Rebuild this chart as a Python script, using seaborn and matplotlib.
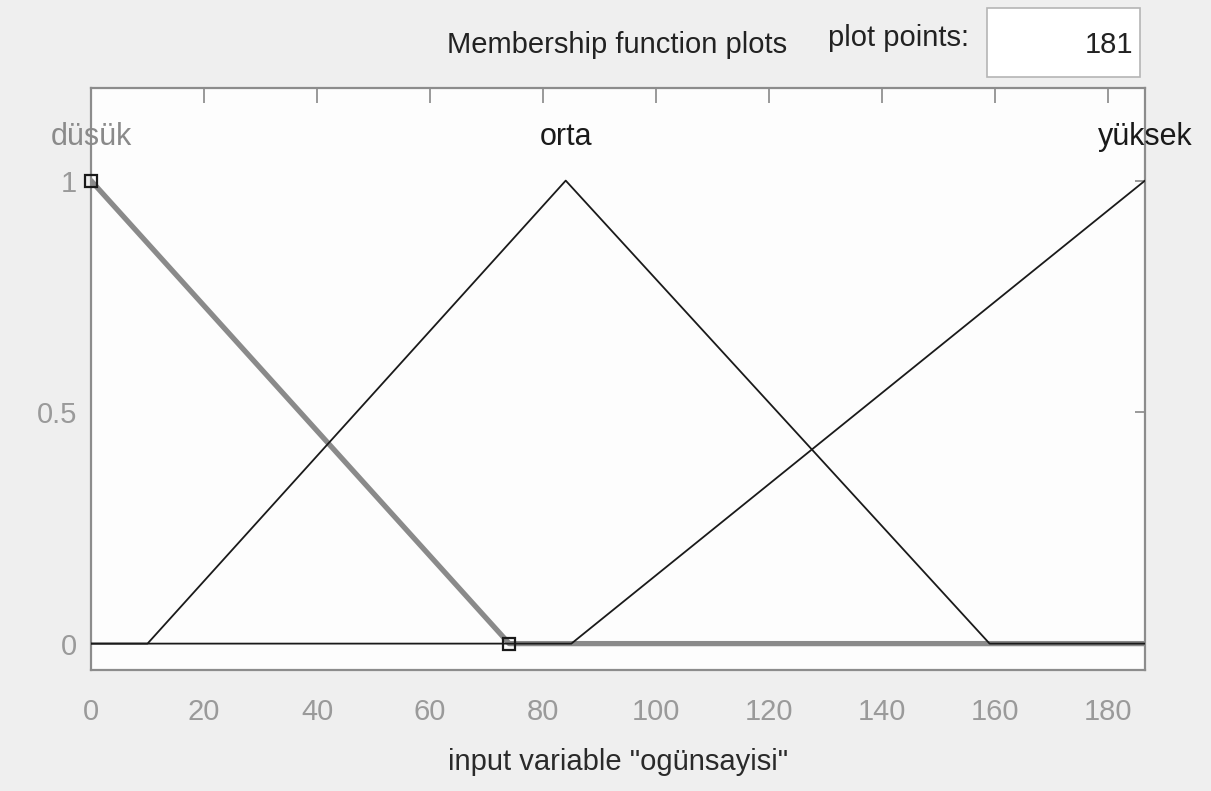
import numpy as np
import pandas as pd
import matplotlib
matplotlib.use("Agg")
import matplotlib.pyplot as plt
import seaborn as sns
from matplotlib import font_manager
from matplotlib.patches import Rectangle

# ---- data (vertices of the membership functions) ----
mf_names = ["düsük", "orta", "yüksek"]
dusuk_x = [0, 74, 186.5]
dusuk_y = [1, 0, 0]
orta_x = [0, 10, 84, 159, 186.5]
orta_y = [0, 0, 1, 0, 0]
yuksek_x = [0, 85, 186.5]
yuksek_y = [0, 0, 1]
label_x = [0, 84, 186.5]
x_ticks = [0, 20, 40, 60, 80, 100, 120, 140, 160, 180]
y_ticks = [0, 0.5, 1]
y_tick_labels = ["0", "0.5", "1"]
plot_points = "181"

sns.set_theme(style="white")
avail = {f.name for f in font_manager.fontManager.ttflist}
fam = "Liberation Sans Narrow" if "Liberation Sans Narrow" in avail else "Liberation Sans"
plt.rcParams["font.family"] = [fam, "DejaVu Sans"]

fig = plt.figure(figsize=(12.11, 7.91), dpi=100)
fig.patch.set_facecolor("#efefef")
ax = fig.add_axes([91 / 1211, 1 - 670 / 791, 1054 / 1211, 582 / 791])
ax.set_facecolor("#fdfdfd")

df_d = pd.DataFrame({"x": dusuk_x, "y": dusuk_y})
df_o = pd.DataFrame({"x": orta_x, "y": orta_y})
df_y = pd.DataFrame({"x": yuksek_x, "y": yuksek_y})

sns.lineplot(data=df_d, x="x", y="y", ax=ax, color="#8a8a8a", linewidth=3.8,
             sort=False, estimator=None, zorder=2)
sns.lineplot(data=df_o, x="x", y="y", ax=ax, color="#1a1a1a", linewidth=1.3,
             sort=False, estimator=None, zorder=3)
sns.lineplot(data=df_y, x="x", y="y", ax=ax, color="#1a1a1a", linewidth=1.3,
             sort=False, estimator=None, zorder=3)
# selected MF vertex markers
ax.plot(dusuk_x[:2], dusuk_y[:2], linestyle="none", marker="s", markersize=9,
        markerfacecolor="none", markeredgecolor="#1a1a1a", markeredgewidth=1.6,
        zorder=5, clip_on=False)

ax.set_xlim(0, 186.5)
ax.set_ylim(-0.057, 1.2)
ax.set_xticks(x_ticks)
ax.set_yticks(y_ticks)
ax.set_yticklabels(y_tick_labels)
ax.tick_params(axis="both", direction="in", top=True, right=True,
               labelsize=21, labelcolor="#9a9a9a", color="#888888", width=1.2)
ax.tick_params(axis="x", length=11, pad=20)
ax.tick_params(axis="y", length=7, pad=10)
for s in ax.spines.values():
    s.set_color("#8c8c8c")
    s.set_linewidth(1.6)

ax.set_xlabel('input variable "ogünsayisi"', fontsize=21, color="#2a2a2a", labelpad=16)
ax.set_ylabel("")

label_colors = ["#8a8a8a", "#1a1a1a", "#1a1a1a"]
for name, lx, c in zip(mf_names, label_x, label_colors):
    ax.text(lx, 1.095, name, ha="center", va="center", fontsize=22, color=c,
            clip_on=False, zorder=6)

fig.text(617 / 1211, 1 - 45 / 791, "Membership function plots", ha="center",
         va="center", fontsize=21, color="#222222")
fig.text(898 / 1211, 1 - 38 / 791, "plot points:", ha="center", va="center",
         fontsize=21, color="#222222")
fig.patches.append(Rectangle((987 / 1211, 1 - 77 / 791), 153 / 1211, 69 / 791,
                             transform=fig.transFigure, facecolor="white",
                             edgecolor="#b5b5b5", linewidth=1.2))
fig.text(1133 / 1211, 1 - 45 / 791, plot_points, ha="right", va="center",
         fontsize=21, color="#222222")

fig.savefig("out.png", dpi=100, facecolor=fig.get_facecolor())
